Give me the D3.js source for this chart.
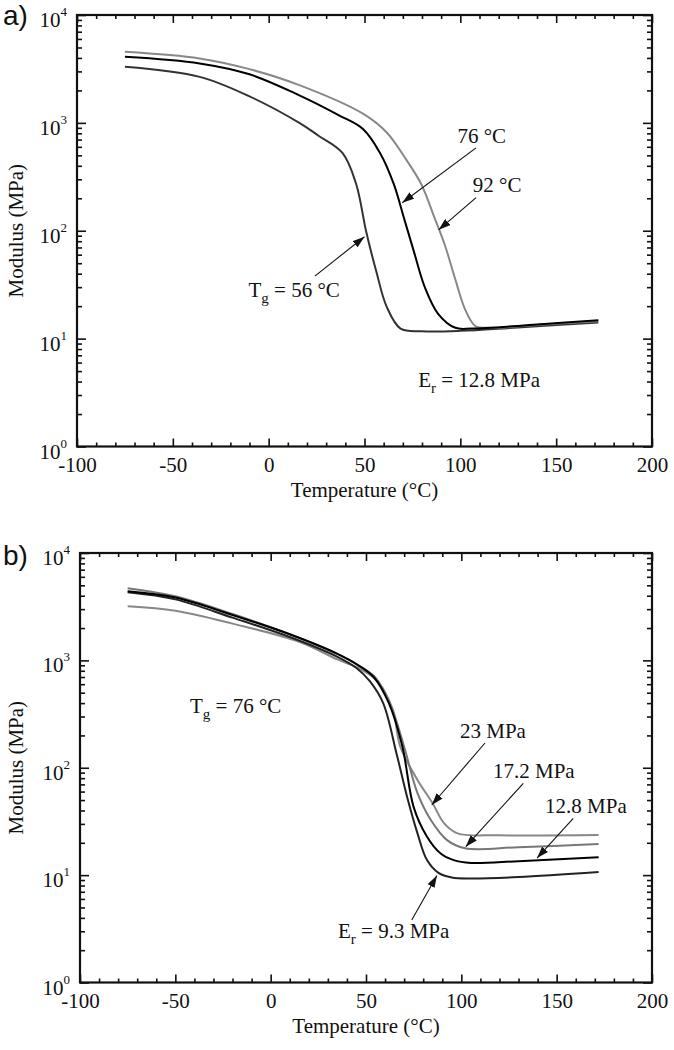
<!DOCTYPE html>
<html lang="en">
<head>
    <meta charset="UTF-8" />
    <title>Modulus vs temperature</title>
    <script src="https://d3js.org/d3.v7.min.js"></script>
    <style>
        body {
            margin: 0;
            background: #fff;
        }

        svg text {
            font-family: "Liberation Serif", "Times New Roman", serif;
            fill: #111;
        }

        .tag {
            font-family: "Liberation Sans", Arial, sans-serif !important;
        }

        .curve {
            fill: none;
            stroke-width: 2;
        }

        .arrow {
            stroke: #111;
            stroke-width: 1.1;
        }
    </style>
</head>
<body>
<svg id="chart" width="674" height="1050"></svg>

<script>
    // Ejes compartidos
    const xMajor = [-100, -50, 0, 50, 100, 150, 200];
    const yDecades = [0, 1, 2, 3, 4];

    // Panel a) tres redes con distinta Tg
    const tempA56 = [-75, -36, -10, 16, 26, 38.5, 45.6, 50.9, 56.3, 61.6, 68.8, 80, 100, 130, 172];
    const modA56  = [3310, 2670, 1760, 1000, 760, 526, 273, 98, 41, 19.7, 12.4, 11.7, 11.8, 12.7, 14.1];

    const tempA76 = [-75, -36, -10, 16, 36.7, 49.2, 58.1, 65.2, 70.6, 75.9, 81.3, 88.4, 97.4, 106, 140, 172];
    const modA76  = [4100, 3560, 2820, 1800, 1175, 877, 526, 273, 131, 63, 30.5, 17, 12.6, 12.4, 13.5, 14.8];

    const tempA92 = [-75, -36, -10, 16, 49.2, 61.6, 70.6, 79.5, 86.6, 92, 97.4, 102.7, 108, 115, 140, 172];
    const modA92  = [4560, 3960, 3150, 2240, 1217, 815, 490, 273, 131, 73, 35.3, 18.3, 13, 12.6, 13.4, 14.5];

    // Panel b) misma Tg, distinto modulo de caucho
    const tempB93 = [-75, -50, -20, 10, 35, 45, 52, 59, 66, 71.5, 77, 82, 88, 95, 105, 130, 172];
    const modB93  = [4300, 3700, 2500, 1650, 1080, 850, 640, 400, 136, 54, 24.5, 13.8, 10.5, 9.5, 9.3, 9.6, 10.7];

    const tempB128 = [-75, -50, -20, 10, 35, 46, 54, 62, 69, 75, 82, 89, 96, 105, 130, 172];
    const modB128  = [4400, 3850, 2650, 1750, 1150, 900, 700, 400, 160, 43, 22.8, 16, 13.8, 13, 13.5, 14.7];

    const tempB172 = [-75, -50, -20, 10, 35, 46, 55, 63, 70, 77, 84, 92.5, 102, 130, 172];
    const modB172  = [4700, 3950, 2700, 1750, 1150, 900, 690, 380, 157, 58, 32.6, 21.2, 17.8, 18.2, 19.5];

    const tempB23 = [-75, -50, -20, 15, 35, 47, 56, 64, 68, 77, 85, 91, 98, 120, 172];
    const modB23  = [3200, 2900, 2200, 1490, 1020, 830, 640, 350, 157, 77, 46.5, 30.3, 24.5, 23.5, 23.6];

    // Anotaciones en coordenadas de datos: texto (T, E) y flecha desde/hasta
    const notesA = [
        { text: "76 °C", t: 98.5, e: 656, from: [108.2, 586], to: [69.7, 182] },
        { text: "92 °C", t: 106.5, e: 227, from: [108.2, 203], to: [88.7, 102] },
        { text: "T", sub: "g", rest: " = 56 °C", t: -10.5, e: 24.5, from: [24.1, 38], to: [50, 88] },
        { text: "E", sub: "r", rest: " = 12.8 MPa", t: 78, e: 3.56 }
    ];

    const notesB = [
        { text: "T", sub: "g", rest: " = 76 °C", t: -42.3, e: 323 },
        { text: "23 MPa", t: 99.3, e: 189, from: [112.4, 170], to: [84.5, 45] },
        { text: "17.2 MPa", t: 116.6, e: 80, from: [132.5, 71.6], to: [102.3, 18.4] },
        { text: "12.8 MPa", t: 143.9, e: 37.8, from: [158.7, 33.8], to: [139.7, 14.4] },
        { text: "E", sub: "r", rest: " = 9.3 MPa", t: 35.3, e: 2.6, from: [74, 3.82], to: [87.2, 9.9] }
    ];

    const svg = d3.select("#chart");

    svg.append("defs").append("marker")
        .attr("id", "head")
        .attr("markerUnits", "userSpaceOnUse")
        .attr("viewBox", "0 0 12 8")
        .attr("markerWidth", 12)
        .attr("markerHeight", 8)
        .attr("refX", 12)
        .attr("refY", 4)
        .attr("orient", "auto")
        .append("path")
        .attr("d", "M0,0 L12,4 L0,8 z")
        .attr("fill", "#111");

    function drawPanel(cfg) {
        const { left, right, top, bottom } = cfg;
        const g = svg.append("g");

        const x = d3.scaleLinear().domain([-100, 200]).range([left, right]);
        const y = d3.scaleLog().domain([1, 1e4]).range([bottom, top]);

        const xMinor = d3.range(-90, 200, 10).filter(v => v % 50 !== 0);
        const yMajor = yDecades.map(d => Math.pow(10, d));
        const yMinor = [];
        yDecades.slice(0, -1).forEach(d => {
            for (let k = 2; k <= 9; k++) yMinor.push(k * Math.pow(10, d));
        });

        // ticks hacia adentro en los cuatro lados
        g.append("g").attr("transform", `translate(0,${bottom})`)
            .call(d3.axisBottom(x).tickValues(xMinor).tickSizeInner(-4).tickSizeOuter(0).tickFormat(""));
        g.append("g").attr("transform", `translate(0,${top})`)
            .call(d3.axisTop(x).tickValues(xMinor).tickSizeInner(-4).tickSizeOuter(0).tickFormat(""));
        g.append("g").attr("transform", `translate(0,${top})`)
            .call(d3.axisTop(x).tickValues(xMajor).tickSizeInner(-8).tickSizeOuter(0).tickFormat(""));

        const bottomMajor = g.append("g")
            .attr("transform", `translate(0,${bottom})`)
            .call(d3.axisBottom(x).tickValues(xMajor).tickSizeInner(-8).tickSizeOuter(0)
                .tickPadding(11).tickFormat(d => String(d)));
        bottomMajor.selectAll("text")
            .attr("font-size", 21)
            .attr("font-family", "Liberation Serif, serif")
            .attr("fill", "#111");

        g.append("g").attr("transform", `translate(${left},0)`)
            .call(d3.axisLeft(y).tickValues(yMinor).tickSizeInner(-5).tickSizeOuter(0).tickFormat(""));
        g.append("g").attr("transform", `translate(${right},0)`)
            .call(d3.axisRight(y).tickValues(yMinor).tickSizeInner(-5).tickSizeOuter(0).tickFormat(""));
        g.append("g").attr("transform", `translate(${left},0)`)
            .call(d3.axisLeft(y).tickValues(yMajor).tickSizeInner(-9).tickSizeOuter(0).tickFormat(""));
        g.append("g").attr("transform", `translate(${right},0)`)
            .call(d3.axisRight(y).tickValues(yMajor).tickSizeInner(-9).tickSizeOuter(0).tickFormat(""));

        g.selectAll(".domain").remove();
        g.selectAll(".tick line").attr("stroke", "#111").attr("stroke-width", 1.6);

        // etiquetas 10^n
        const yl = g.append("g");
        yDecades.forEach(d => {
            const t = yl.append("text")
                .attr("x", left - 10)
                .attr("y", y(Math.pow(10, d)) + 12)
                .attr("text-anchor", "end")
                .attr("font-size", 21);
            t.append("tspan").text("10");
            t.append("tspan").attr("font-size", 13).attr("dy", -11).text(d);
        });

        // marco
        g.append("rect")
            .attr("x", left).attr("y", top)
            .attr("width", right - left).attr("height", bottom - top)
            .attr("fill", "none").attr("stroke", "#111").attr("stroke-width", 2.2);

        // curvas
        const line = d3.line()
            .x(p => x(p[0]))
            .y(p => y(p[1]))
            .curve(d3.curveCatmullRom.alpha(0.5));

        cfg.series.forEach(s => {
            g.append("path")
                .attr("class", "curve")
                .attr("stroke", s.color)
                .attr("d", line(d3.zip(s.temp, s.mod)));
        });

        // anotaciones
        cfg.notes.forEach(n => {
            const t = g.append("text")
                .attr("x", x(n.t))
                .attr("y", y(n.e))
                .attr("font-size", 21);
            t.append("tspan").text(n.text);
            if (n.sub) {
                t.append("tspan").attr("font-size", 15).attr("dy", 6).text(n.sub);
                t.append("tspan").attr("dy", -6).text(n.rest);
            }
            if (n.from) {
                g.append("line")
                    .attr("class", "arrow")
                    .attr("x1", x(n.from[0])).attr("y1", y(n.from[1]))
                    .attr("x2", x(n.to[0])).attr("y2", y(n.to[1]))
                    .attr("marker-end", "url(#head)");
            }
        });

        // titulos de ejes
        g.append("text")
            .attr("x", (left + right) / 2)
            .attr("y", bottom + 50)
            .attr("text-anchor", "middle")
            .attr("font-size", 21)
            .text("Temperature (°C)");

        g.append("text")
            .attr("transform", `translate(23,${(top + bottom) / 2}) rotate(-90)`)
            .attr("text-anchor", "middle")
            .attr("font-size", 21)
            .text("Modulus (MPa)");

        g.append("text")
            .attr("class", "tag")
            .attr("x", 3)
            .attr("y", top + cfg.tagDy)
            .attr("font-size", 28)
            .text(cfg.tag);
    }

    drawPanel({
        left: 77, right: 652, top: 15, bottom: 446.5, tag: "a)", tagDy: 10,
        series: [
            { temp: tempA56, mod: modA56, color: "#333" },
            { temp: tempA92, mod: modA92, color: "#888" },
            { temp: tempA76, mod: modA76, color: "#000" }
        ],
        notes: notesA
    });

    drawPanel({
        left: 80, right: 652, top: 553, bottom: 982.5, tag: "b)", tagDy: 12,
        series: [
            { temp: tempB23, mod: modB23, color: "#888" },
            { temp: tempB172, mod: modB172, color: "#777" },
            { temp: tempB93, mod: modB93, color: "#222" },
            { temp: tempB128, mod: modB128, color: "#000" }
        ],
        notes: notesB
    });
</script>
</body>
</html>
